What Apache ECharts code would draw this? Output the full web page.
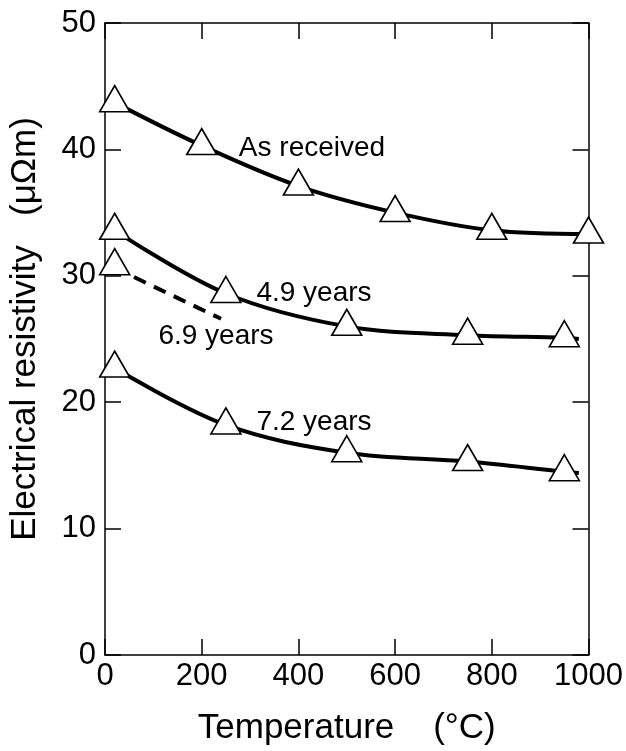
<!DOCTYPE html>
<html>
<head>
<meta charset="utf-8">
<script src="https://cdn.jsdelivr.net/npm/echarts@6/dist/echarts.min.js"></script>
<style>
html,body{margin:0;padding:0;background:#fff;}
#chart{width:626px;height:751px;}
</style>
</head>
<body>
<div id="chart"></div>
<script>
// ---- data ----
var xTicks = [0, 200, 400, 600, 800, 1000];
var yTicks = [0, 10, 20, 30, 40, 50];

var tempAsReceived = [20, 200, 400, 600, 800, 1000];
var valAsReceived  = [43.7, 40.3, 37.1, 35.0, 33.6, 33.3];

var temp49 = [20, 250, 500, 750, 950];
var val49  = [33.6, 28.6, 26.0, 25.3, 25.1];
var end49  = [980, 25.0];

var temp69 = [20];
var val69  = [30.8];
var dash69Temp = [60, 240];
var dash69Val  = [29.9, 26.6];

var temp72 = [20, 250, 500, 750, 950];
var val72  = [22.7, 18.2, 16.0, 15.3, 14.5];
var end72  = [980, 14.4];

var seriesLabels = ['As received', '4.9 years', '6.9 years', '7.2 years'];

// ---- chart ----
var FONT = '"Liberation Sans", Arial, Helvetica, sans-serif';
function pairs(xs, ys) { return xs.map(function (x, i) { return [x, ys[i]]; }); }

var markerStyle = {
  symbol: 'triangle',
  symbolSize: [30, 26],
  symbolOffset: [0, -4],
  itemStyle: { color: '#fff', borderColor: '#000', borderWidth: 1.6, opacity: 1 }
};

function curve(name, xs, ys, end) {
  var data = pairs(xs, ys);
  if (end) data.push({ value: end, symbol: 'none' });
  return Object.assign({
    name: name,
    type: 'line',
    smooth: 0.35,
    showAllSymbol: true,
    data: data,
    lineStyle: { color: '#000', width: 4 },
    z: 3
  }, markerStyle);
}

var chart = echarts.init(document.getElementById('chart'), null, { renderer: 'canvas' });

function axisCommon() {
  return {
    axisLine: { show: true, onZero: false, lineStyle: { color: '#000', width: 1.5 } },
    axisTick: { show: true, inside: true, length: 16, lineStyle: { color: '#000', width: 1.5 } },
    splitLine: { show: false }
  };
}
function plain(v) { return String(v); }

var option = {
  animation: false,
  backgroundColor: '#fff',
  grid: { left: 103, right: 35, top: 23, bottom: 86, containLabel: false },
  xAxis: [
    Object.assign({
      type: 'value', min: xTicks[0], max: xTicks[xTicks.length - 1], interval: 200,
      position: 'bottom',
      name: 'Temperature    (\u00B0C)', nameLocation: 'middle', nameGap: 56,
      nameTextStyle: { fontFamily: FONT, fontSize: 35, color: '#000' },
      axisLabel: { margin: 6, fontFamily: FONT, fontSize: 31, color: '#000', formatter: plain }
    }, axisCommon()),
    Object.assign({
      type: 'value', min: xTicks[0], max: xTicks[xTicks.length - 1], interval: 200,
      position: 'top', axisLabel: { show: false }
    }, axisCommon())
  ],
  yAxis: [
    Object.assign({
      type: 'value', min: yTicks[0], max: yTicks[yTicks.length - 1], interval: 10,
      position: 'left',
      name: 'Electrical resistivity   (\u03BC\u03A9m)', nameLocation: 'middle', nameGap: 62,
      nameTextStyle: { fontFamily: FONT, fontSize: 35, color: '#000', padding: [0, 0, 0, 20] },
      axisLabel: { margin: 9, fontFamily: FONT, fontSize: 31, color: '#000', formatter: plain }
    }, axisCommon()),
    Object.assign({
      type: 'value', min: yTicks[0], max: yTicks[yTicks.length - 1], interval: 10,
      position: 'right', axisLabel: { show: false }
    }, axisCommon())
  ],
  series: [
    curve(seriesLabels[0], tempAsReceived, valAsReceived, null),
    curve(seriesLabels[1], temp49, val49, end49),
    {
      name: seriesLabels[2] + ' trend',
      type: 'line',
      data: pairs(dash69Temp, dash69Val),
      symbol: 'none',
      lineStyle: { color: '#000', width: 4, type: [13, 9] },
      z: 2
    },
    Object.assign({
      name: seriesLabels[2],
      type: 'scatter',
      data: pairs(temp69, val69),
      z: 4
    }, markerStyle),
    curve(seriesLabels[3], temp72, val72, end72)
  ]
};

// curve labels placed in pixel space
var labelPos = [[312, 148], [314, 293], [216, 336], [314, 422]];
option.graphic = labelPos.map(function (p, i) {
  return {
    type: 'text',
    x: p[0], y: p[1],
    style: { text: seriesLabels[i], font: '28px ' + FONT, fill: '#000', align: 'center', verticalAlign: 'middle' },
    z: 10
  };
});

chart.setOption(option);
</script>
</body>
</html>
